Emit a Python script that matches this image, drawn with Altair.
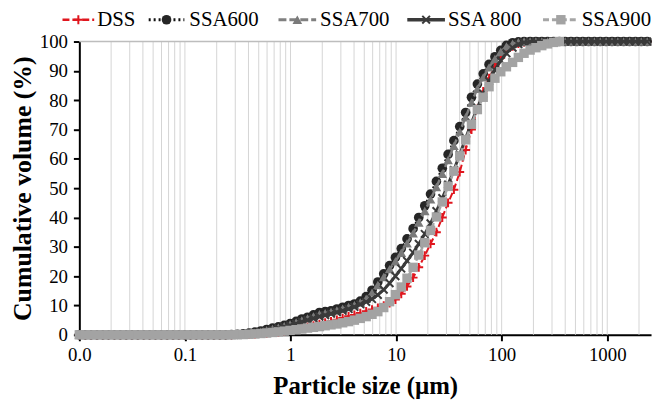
import altair as alt
import pandas as pd

# Particle size bins (µm)
sizes = [0.0100, 0.0114, 0.0129, 0.0147, 0.0167, 0.0189, 0.0215, 0.0244, 0.0278, 0.0315,
         0.0358, 0.0407, 0.0463, 0.0526, 0.0597, 0.0679, 0.0771, 0.0876, 0.0995, 0.113,
         0.128, 0.146, 0.166, 0.188, 0.214, 0.243, 0.276, 0.314, 0.357, 0.405,
         0.460, 0.523, 0.594, 0.675, 0.767, 0.872, 0.991, 1.13, 1.28, 1.45,
         1.65, 1.88, 2.13, 2.42, 2.75, 3.12, 3.55, 4.03, 4.58, 5.21,
         5.92, 6.72, 7.64, 8.68, 9.86, 11.2, 12.7, 14.5, 16.4, 18.7,
         21.2, 24.1, 27.4, 31.1, 35.3, 40.1, 45.6, 51.8, 58.9, 66.9,
         76.0, 86.4, 98.1, 111, 127, 144, 163, 186, 211, 240,
         272, 310, 352, 400, 454, 516, 586, 666, 756, 859,
         976, 1110, 1260, 1430, 1630, 1850, 2100, 2390, 2710, 3080,
         3500]

dss = [0, 0, 0, 0, 0, 0, 0, 0, 0, 0,
       0, 0, 0, 0, 0, 0, 0, 0, 0, 0,
       0, 0, 0, 0, 0, 0, 0.02, 0.05, 0.1, 0.18,
       0.28, 0.4, 0.55, 0.75, 0.95, 1.2, 1.5, 1.9, 2.3, 2.7,
       3.1, 3.6, 4.1, 4.6, 5.1, 5.7, 6.3, 6.8, 7.4, 8.0,
       8.6, 9.2, 9.9, 10.8, 12.0, 14.0, 16.5, 19.5, 23.0, 27.0,
       31.0, 35.0, 40.0, 45.0, 49.5, 55.5, 63.0, 70.0, 77.0, 83.0,
       87.5, 91.5, 94.5, 96.8, 98.4, 99.3, 99.8, 100, 100, 100,
       100, 100, 100, 100, 100, 100, 100, 100, 100, 100,
       100, 100, 100, 100, 100, 100, 100, 100, 100, 100,
       100]

ssa600 = [0, 0, 0, 0, 0, 0, 0, 0, 0, 0,
          0, 0, 0, 0, 0, 0, 0, 0, 0, 0,
          0, 0, 0, 0, 0, 0, 0.05, 0.15, 0.3, 0.55,
          0.9, 1.3, 1.8, 2.3, 2.7, 3.2, 3.8, 4.6, 5.4, 6.0,
          6.8, 7.6, 7.9, 8.2, 8.8, 9.4, 10.0, 10.5, 11.5, 13.0,
          15.2, 18.0, 20.8, 23.6, 26.4, 29.4, 32.7, 36.2, 40.0, 44.0,
          48.0, 52.3, 56.8, 61.5, 66.2, 71.0, 75.8, 81.0, 85.5, 89.0,
          92.2, 94.8, 97.0, 98.7, 99.6, 99.9, 100, 100, 100, 100,
          100, 100, 100, 100, 100, 100, 100, 100, 100, 100,
          100, 100, 100, 100, 100, 100, 100, 100, 100, 100,
          100]

ssa700 = [0, 0, 0, 0, 0, 0, 0, 0, 0, 0,
          0, 0, 0, 0, 0, 0, 0, 0, 0, 0,
          0, 0, 0, 0, 0, 0, 0.04, 0.12, 0.25, 0.45,
          0.75, 1.1, 1.55, 2.0, 2.45, 2.95, 3.5, 4.2, 4.9, 5.6,
          6.3, 7.0, 7.4, 7.8, 8.3, 8.9, 9.5, 10.1, 11.0, 12.3,
          14.4, 17.0, 19.7, 22.4, 25.1, 28.0, 31.2, 34.6, 38.3, 42.2,
          46.2, 50.4, 54.9, 59.6, 64.4, 69.3, 74.2, 79.2, 83.9, 87.8,
          91.2, 94.1, 96.5, 98.3, 99.3, 99.8, 100, 100, 100, 100,
          100, 100, 100, 100, 100, 100, 100, 100, 100, 100,
          100, 100, 100, 100, 100, 100, 100, 100, 100, 100,
          100]

ssa800 = [0, 0, 0, 0, 0, 0, 0, 0, 0, 0,
          0, 0, 0, 0, 0, 0, 0, 0, 0, 0,
          0, 0, 0, 0, 0, 0, 0.03, 0.1, 0.2, 0.35,
          0.6, 0.9, 1.3, 1.75, 2.2, 2.7, 3.2, 3.8, 4.4, 5.0,
          5.6, 6.2, 6.7, 7.2, 7.7, 8.2, 8.8, 9.5, 10.4, 11.2,
          12.2, 13.6, 15.4, 17.6, 20.0, 22.6, 25.2, 28.0, 31.0, 34.4,
          38.0, 42.2, 46.6, 51.2, 56.2, 61.5, 67.0, 72.3, 77.4, 82.2,
          86.5, 90.3, 93.5, 96.0, 97.9, 99.1, 99.7, 99.95, 100, 100,
          100, 100, 100, 100, 100, 100, 100, 100, 100, 100,
          100, 100, 100, 100, 100, 100, 100, 100, 100, 100,
          100]

ssa900 = [0, 0, 0, 0, 0, 0, 0, 0, 0, 0,
          0, 0, 0, 0, 0, 0, 0, 0, 0, 0,
          0, 0, 0, 0, 0, 0, 0.02, 0.05, 0.1, 0.2,
          0.3, 0.45, 0.6, 0.8, 1.0, 1.25, 1.5, 1.75, 2.0, 2.3,
          2.55, 2.8, 3.1, 3.4, 3.7, 4.1, 4.5, 5.0, 5.6, 6.2,
          7.0, 7.9, 9.3, 11.3, 13.7, 16.3, 19.3, 23.0, 27.2, 31.4,
          35.6, 40.2, 45.3, 50.6, 55.8, 61.0, 66.5, 71.8, 76.8, 81.0,
          84.6, 87.5, 89.7, 91.4, 92.9, 94.6, 96.0, 97.1, 97.9, 98.6,
          99.2, 99.7, 100]

series_names = ["DSS", "SSA600", "SSA700", "SSA 800", "SSA900"]
series_values = [dss, ssa600, ssa700, ssa800, ssa900]

# styles
line_colors = ["#e0161e", "#111111", "#808080", "#3a3a3a", "#a6a6a6"]
marker_colors = ["#e0161e", "#262626", "#7a7a7a", "#3a3a3a", "#a3a3a3"]
line_dashes = [[7, 3], [2, 3], [8, 3], None, [6, 3]]
line_widths = [2, 2.5, 2.5, 3, 2.5]
marker_shapes = ["M-1,0H1M0,-1V1", "circle", "triangle-up", "M-1,-1L1,1M-1,1L1,-1", "square"]
marker_filled = [False, True, True, False, True]
marker_sizes = [80, 95, 95, 60, 90]

x_ticks = [0.01, 0.1, 1, 10, 100, 1000]
y_ticks = [0, 10, 20, 30, 40, 50, 60, 70, 80, 90, 100]
x_max = 2600
grid_x = [m * 10.0 ** e for e in range(-2, 4) for m in range(1, 10)]
grid_x = [g for g in grid_x if 0.011 < g <= x_max]

# legend layout (pixels relative to plot origin)
legend_sym_start = [-17, 70, 201, 331, 468]
legend_sym_end = [15, 106, 239, 369, 504]
legend_text_x = [18, 111, 243, 372, 507]
legend_y = -22

FONT = "Liberation Serif"

xscale = alt.Scale(type="log", domain=[0.01, x_max])
yscale = alt.Scale(domain=[0, 100])

xaxis = alt.Axis(values=x_ticks, grid=False,
                 labelExpr="datum.value < 0.05 ? '0.0' : (datum.value < 0.5 ? '0.1' : format(datum.value, 'd'))",
                 domainColor="black", domainWidth=2, tickColor="black", tickWidth=2, tickSize=6,
                 labelFont=FONT, labelFontSize=19, labelColor="black", labelPadding=5,
                 labelFlush=False, labelOverlap=False,
                 title="Particle size (µm)", titleFont=FONT, titleFontSize=25,
                 titleFontWeight="bold", titleColor="black", titlePadding=9)
yaxis = alt.Axis(values=y_ticks, grid=False,
                 domainColor="black", domainWidth=2, tickColor="black", tickWidth=2, tickSize=6,
                 labelFont=FONT, labelFontSize=19, labelColor="black", labelPadding=6,
                 title="Cumulative volume (%)", titleFont=FONT, titleFontSize=26,
                 titleFontWeight="bold", titleColor="black", titlePadding=4)

layers = []
grid = alt.Chart(pd.DataFrame({"d": grid_x})).mark_rule(color="#d4d4d4", strokeWidth=1).encode(
    x=alt.X("d:Q", scale=xscale, axis=xaxis))
layers.append(grid)
top = alt.Chart(pd.DataFrame({"v": [100]})).mark_rule(color="#bdbdbd", strokeWidth=1.5).encode(
    y=alt.Y("v:Q", scale=yscale, axis=yaxis))
layers.append(top)

for k, name in enumerate(series_names):
    vals = series_values[k]
    df = pd.DataFrame({"d": sizes[:len(vals)], "v": vals})
    df = df[df["d"] <= x_max]
    base = alt.Chart(df).encode(
        x=alt.X("d:Q", scale=xscale, axis=xaxis),
        y=alt.Y("v:Q", scale=yscale, axis=yaxis))
    line_kw = dict(color=line_colors[k], strokeWidth=line_widths[k])
    if line_dashes[k] is not None:
        line_kw["strokeDash"] = line_dashes[k]
    layers.append(base.mark_line(**line_kw))
    pt_kw = dict(shape=marker_shapes[k], filled=marker_filled[k], size=marker_sizes[k],
                 color=marker_colors[k], opacity=1, strokeWidth=2)
    layers.append(base.mark_point(**pt_kw))

# legend
one = pd.DataFrame({"k": [0]})
for k, name in enumerate(series_names):
    rule_kw = dict(color=line_colors[k], strokeWidth=line_widths[k] + 0.5)
    if line_dashes[k] is not None:
        rule_kw["strokeDash"] = line_dashes[k]
    layers.append(alt.Chart(one).mark_rule(**rule_kw).encode(
        x=alt.value(legend_sym_start[k]), x2=alt.value(legend_sym_end[k]), y=alt.value(legend_y)))
    mid = (legend_sym_start[k] + legend_sym_end[k]) / 2
    layers.append(alt.Chart(one).mark_point(shape=marker_shapes[k], filled=marker_filled[k],
                                            size=marker_sizes[k], color=marker_colors[k],
                                            opacity=1, strokeWidth=2).encode(
        x=alt.value(mid), y=alt.value(legend_y)))
    layers.append(alt.Chart(one).mark_text(align="left", baseline="middle", font=FONT,
                                           fontSize=21, color="black").encode(
        x=alt.value(legend_text_x[k]), y=alt.value(legend_y), text=alt.value(name)))

chart = alt.layer(*layers).properties(
    width=577, height=296,
    autosize=alt.AutoSizeParams(type="none"),
    padding={"left": 72, "top": 32, "right": 4, "bottom": 70},
).configure_view(stroke=None)

chart.save("out.html", embed_options={"renderer": "svg", "actions": False})
